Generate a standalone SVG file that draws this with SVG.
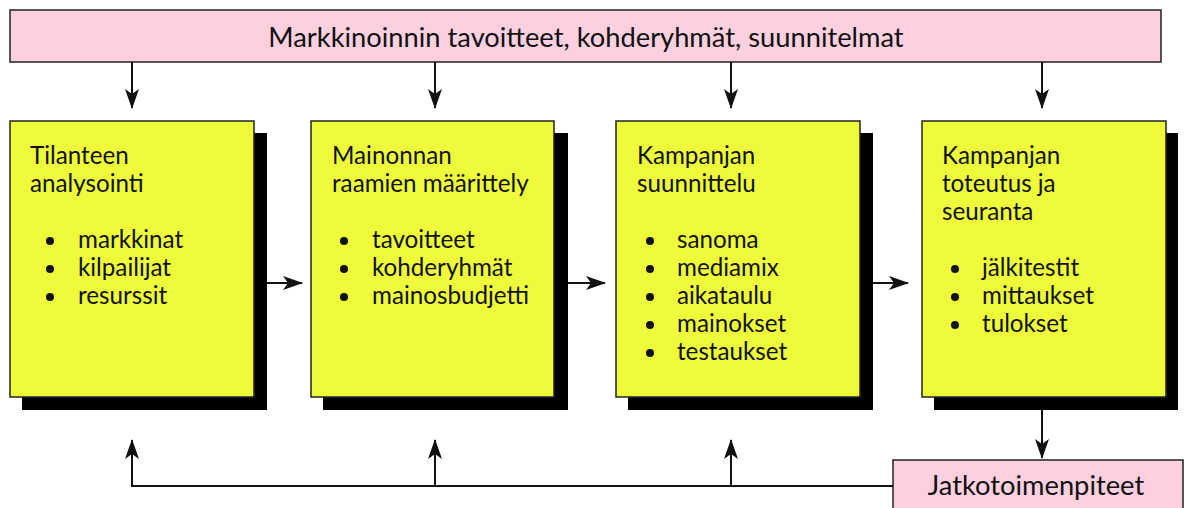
<svg xmlns="http://www.w3.org/2000/svg" width="1186" height="508" viewBox="0 0 1186 508">
<style>
text{font-family:Lato,"Noto Sans","Liberation Sans",sans-serif;fill:#111}
.t{font-size:24.2px}
.h{font-size:27.3px}
.box{fill:#EEFB3A;stroke:#222;stroke-width:1.5}
.pink{fill:#FDD0E0;stroke:#222;stroke-width:1.5}
.sh{fill:#000}
.ln{stroke:#111;stroke-width:2;fill:none}
.b{fill:#111}
</style>
<defs>
<marker id="ah" markerUnits="userSpaceOnUse" markerWidth="20" markerHeight="14" refX="19" refY="7" orient="auto">
<path d="M0,0 L20,7 L0,14 L5,7 Z" fill="#111"/>
</marker>
</defs>
<rect width="1186" height="508" fill="#fff"/>
<g id="top">
<rect class="pink" x="10" y="10" width="1151" height="52"/>
<text class="h" x="586" y="47" text-anchor="middle">Markkinoinnin tavoitteet, kohderyhmät, suunnitelmat</text>
</g>
<g id="n1">
<rect class="sh" x="22" y="133" width="245" height="277"/>
<rect class="box" x="10" y="121" width="244" height="276"/>
<text class="t" x="30" y="164">Tilanteen</text>
<text class="t" x="30" y="192">analysointi</text>
<circle class="b" cx="50" cy="241" r="4"/><text class="t" x="78" y="248">markkinat</text>
<circle class="b" cx="50" cy="269" r="4"/><text class="t" x="78" y="276">kilpailijat</text>
<circle class="b" cx="50" cy="297" r="4"/><text class="t" x="78" y="304">resurssit</text>
</g>
<g id="n2">
<rect class="sh" x="323" y="133" width="245" height="277"/>
<rect class="box" x="311" y="121" width="243" height="276"/>
<text class="t" x="332" y="164">Mainonnan</text>
<text class="t" x="332" y="192">raamien määrittely</text>
<circle class="b" cx="344" cy="241" r="4"/><text class="t" x="372" y="248">tavoitteet</text>
<circle class="b" cx="344" cy="269" r="4"/><text class="t" x="372" y="276">kohderyhmät</text>
<circle class="b" cx="344" cy="297" r="4"/><text class="t" x="372" y="304">mainosbudjetti</text>
</g>
<g id="n3">
<rect class="sh" x="628" y="133" width="245" height="277"/>
<rect class="box" x="616" y="121" width="244" height="276"/>
<text class="t" x="637" y="164">Kampanjan</text>
<text class="t" x="637" y="192">suunnittelu</text>
<circle class="b" cx="650" cy="241" r="4"/><text class="t" x="677" y="248">sanoma</text>
<circle class="b" cx="650" cy="269" r="4"/><text class="t" x="677" y="276">mediamix</text>
<circle class="b" cx="650" cy="297" r="4"/><text class="t" x="677" y="304">aikataulu</text>
<circle class="b" cx="650" cy="325" r="4"/><text class="t" x="677" y="332">mainokset</text>
<circle class="b" cx="650" cy="353" r="4"/><text class="t" x="677" y="360">testaukset</text>
</g>
<g id="n4">
<rect class="sh" x="934" y="133" width="244" height="277"/>
<rect class="box" x="922" y="121" width="244" height="276"/>
<text class="t" x="942" y="164">Kampanjan</text>
<text class="t" x="942" y="192">toteutus ja</text>
<text class="t" x="942" y="220">seuranta</text>
<circle class="b" cx="955" cy="269" r="4"/><text class="t" x="982" y="276">jälkitestit</text>
<circle class="b" cx="955" cy="297" r="4"/><text class="t" x="982" y="304">mittaukset</text>
<circle class="b" cx="955" cy="325" r="4"/><text class="t" x="982" y="332">tulokset</text>
</g>
<g id="jatko">
<rect class="pink" x="893" y="460" width="290" height="60"/>
<text class="h" x="1036" y="495" text-anchor="middle">Jatkotoimenpiteet</text>
</g>
<g id="connectors">
<line class="ln" x1="132" y1="62" x2="132" y2="108" marker-end="url(#ah)"/>
<line class="ln" x1="435" y1="62" x2="435" y2="108" marker-end="url(#ah)"/>
<line class="ln" x1="731" y1="62" x2="731" y2="108" marker-end="url(#ah)"/>
<line class="ln" x1="1042" y1="62" x2="1042" y2="108" marker-end="url(#ah)"/>
<line class="ln" x1="267" y1="283" x2="302" y2="283" marker-end="url(#ah)"/>
<line class="ln" x1="568" y1="283" x2="605" y2="283" marker-end="url(#ah)"/>
<line class="ln" x1="873" y1="283" x2="908" y2="283" marker-end="url(#ah)"/>
<line class="ln" x1="1042" y1="410" x2="1042" y2="458" marker-end="url(#ah)"/>
<polyline class="ln" points="893,486 132,486 132,440" marker-end="url(#ah)"/>
<line class="ln" x1="435" y1="486" x2="435" y2="440" marker-end="url(#ah)"/>
<line class="ln" x1="731" y1="486" x2="731" y2="440" marker-end="url(#ah)"/>
</g>
</svg>
